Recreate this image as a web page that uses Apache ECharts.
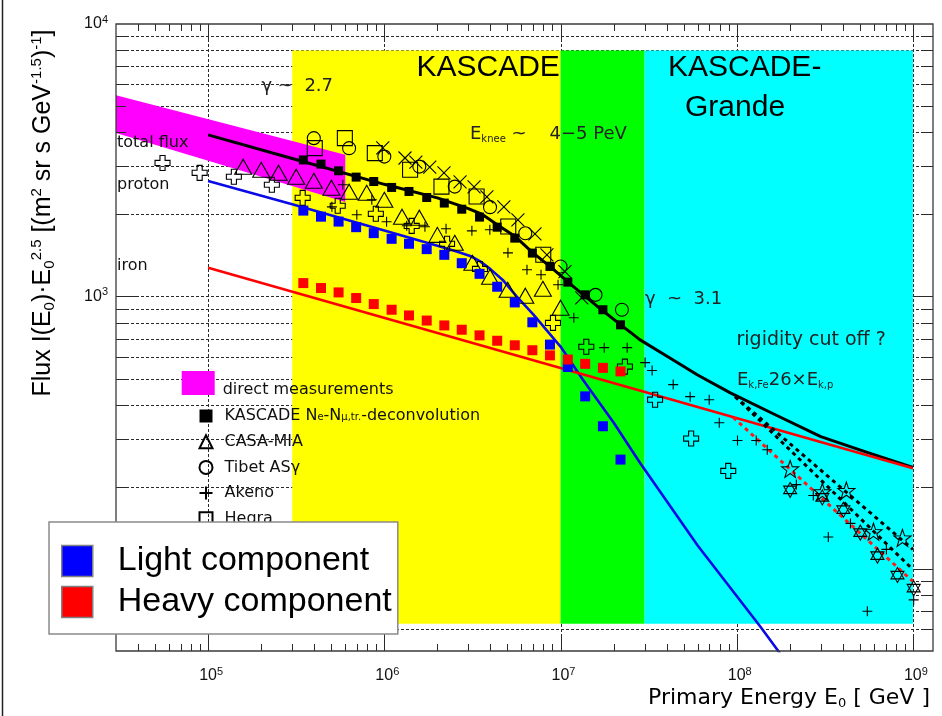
<!DOCTYPE html>
<html>
<head>
<meta charset="utf-8">
<script src="https://cdn.jsdelivr.net/npm/echarts@6/dist/echarts.min.js"></script>
<style>
  html, body { margin: 0; padding: 0; background: #fff; }
  #chart { width: 942px; height: 716px; }
</style>
</head>
<body>
<div id="chart"></div>
<script>
// ---- axis ranges (energy in GeV, flux scaled by E^2.5) ----
const energyRange = [3e4, 1.3e9];
const fluxRange = [50, 1e4];

// decades and the 2..9 subdivisions used for the frame ticks / grid
const energyDecades = [1e4, 1e5, 1e6, 1e7, 1e8, 1e9];
const fluxDecades = [10, 100, 1000];
const subSteps = [1, 2, 3, 4, 5, 6, 7, 8, 9];

// ---- detector coverage regions ----
const regionFrom = [3e5, 1e7, 3e7];
const regionTo = [1e7, 3e7, 1e9];
const regionColors = ['#ffff00', '#00ff00', '#00ffff'];
const regionFlux = [63, 8000];

// ---- direct measurements band (corner points) ----
const directBand = [[3e4, 5480], [6e5, 3312], [6e5, 2224], [3e4, 3983]];

// ---- model curves ----
const totalFit = [[1e5, 3920], [3e5, 3210], [1e6, 2580], [2e6, 2300], [3e6, 2100], [3.6e6, 2000], [4.4e6, 1830],
  [5.5e6, 1665], [6.9e6, 1455], [8.7e6, 1290], [1.18e7, 1090], [1.6e7, 925], [2.18e7, 790], [2.83e7, 693],
  [4e7, 605], [6e7, 515], [9.2e7, 443], [1.6e8, 372], [3e8, 306], [5.5e8, 268], [1e9, 236]];
const protonFit = [[1e5, 2655], [3e5, 2180], [1e6, 1745], [2e6, 1535], [2.6e6, 1460], [3.1e6, 1405], [3.5e6, 1345],
  [4e6, 1260], [4.7e6, 1150], [5.6e6, 1005], [7e6, 860], [1e7, 655], [1.34e7, 495], [2e7, 345], [2.83e7, 245],
  [6e7, 122], [1.36e8, 61.5], [2e8, 43.8]];
const ironFit = [[1e5, 1274], [1e9, 234]];
const cutoffTotalA = [[9.8e7, 429], [1e9, 99.5]];
const cutoffTotalB = [[9.8e7, 429], [1e9, 118]];
const cutoffIron = [[9.55e7, 360], [1e9, 90]];

// ---- KASCADE unfolding (shared energy bins) ----
const kascadeE = [3.47e5, 4.37e5, 5.5e5, 6.92e5, 8.71e5, 1.10e6, 1.38e6, 1.74e6, 2.19e6, 2.75e6,
  3.47e6, 4.37e6, 5.5e6, 6.92e6, 8.71e6, 1.10e7, 1.38e7, 1.74e7, 2.19e7];
const kascadeAll = [3170, 3060, 2893, 2742, 2642, 2513, 2429, 2308, 2202, 2091, 1956, 1796, 1637, 1443, 1289, 1129, 1014, 894, 787];
const kascadeLight = [2066, 1963, 1883, 1796, 1708, 1628, 1561, 1492, 1422, 1325, 1211, 1086, 951, 804, 666, 551, 430, 334, 252];
const kascadeHeavy = [1120, 1074, 1035, 987, 938, 894, 852, 816, 783, 755, 720, 688, 662, 635, 608, 587, 566, 547, 531];

// ---- other experiments ----
const casaMia = [[1.58e5, 2993], [2.0e5, 2917], [2.51e5, 2845], [3.16e5, 2750], [3.98e5, 2658], [5.01e5, 2506],
  [6.31e5, 2423], [7.94e5, 2401], [1.0e6, 2263], [1.26e6, 1963], [1.58e6, 1946], [2.0e6, 1683], [2.51e6, 1574],
  [3.16e6, 1329], [3.98e6, 1181], [5.01e6, 1058], [6.31e6, 1006], [7.94e6, 1067], [1.0e7, 909]];
const tibet = [[3.98e5, 3811], [6.31e5, 3502], [1.0e6, 3261], [1.58e6, 2997], [2.51e6, 2531], [3.98e6, 2127],
  [6.31e6, 1706], [1.0e7, 1288], [1.58e7, 1014], [2.23e7, 894]];
const akeno = [[5.04e5, 2133], [5.81e5, 2571], [6.98e5, 1994], [8.49e5, 2265], [1.03e6, 1881], [1.34e6, 1818],
  [1.70e6, 1803], [2.24e6, 1772], [3.14e6, 1741], [3.97e6, 1757], [5.03e6, 1446], [6.45e6, 1253], [7.75e6, 1201],
  [9.68e6, 1104], [1.19e7, 836], [1.77e7, 649], [2.39e7, 649], [3.02e7, 572], [3.31e7, 535], [4.36e7, 475],
  [5.44e7, 429], [6.98e7, 418], [7.96e7, 344], [1.01e8, 296], [1.29e8, 296], [1.49e8, 274], [2.18e8, 204],
  [2.72e8, 186], [3.31e8, 131], [4.42e8, 147], [7.07e8, 118], [1.01e9, 77], [5.51e8, 70]];
const hegra = [[4.03e5, 3502], [5.97e5, 3811], [8.83e5, 3357], [1.40e6, 2917], [2.11e6, 2531], [3.34e6, 2328],
  [5.05e6, 1807], [7.98e6, 1422]];
const diagonalCross = [[9.8e5, 3508], [1.31e6, 3223], [1.51e6, 3115], [1.81e6, 2985], [2.18e6, 2843], [2.69e6, 2634],
  [3.23e6, 2525], [3.82e6, 2321], [4.77e6, 2134], [5.73e6, 1912], [7.16e6, 1697], [8.37e6, 1422], [1.06e7, 1233],
  [1.32e7, 989]];
const openCross = [[5.51e4, 3091], [8.95e4, 2843], [1.40e5, 2750], [2.30e5, 2571], [3.44e5, 2301], [5.44e5, 2153],
  [8.95e5, 2011], [1.43e6, 1816], [2.27e6, 1561], [3.49e6, 1262], [9.06e6, 800], [1.40e7, 654], [2.32e7, 553],
  [3.44e7, 418], [5.51e7, 301], [8.95e7, 229]];
const openStar = [[2.01e8, 233], [3.06e8, 192], [4.19e8, 194], [5.97e8, 137], [8.72e8, 130]];
const hexagram = [[2.01e8, 195], [3.06e8, 183], [4.03e8, 165], [5.03e8, 136], [6.29e8, 112], [8.17e8, 95], [1.01e9, 85]];

// ---- labels ----
const kascadeName = 'KASCADE Ne-Nμ,tr.-deconvolution';
const lightName = 'Light component';
const heavyName = 'Heavy component';
const directName = 'direct measurements';
const markerLegendNames = [kascadeName, 'CASA-MIA', 'Tibet ASγ', 'Akeno', 'Hegra'];

const SANS = '"DejaVu Sans", sans-serif';
const HELV = '"Liberation Sans", Arial, sans-serif';
const INK = '#111';

const PLUS = 'path://M0,5H10M5,0V10';
const XMARK = 'path://M0,0L10,10M10,0L0,10';
const CROSS = 'path://M3.3,0H6.7V3.3H10V6.7H6.7V10H3.3V6.7H0V3.3H3.3Z';
const STAR = 'path://M5,0L6.18,3.38L9.76,3.45L6.9,5.62L7.94,9.05L5,7L2.06,9.05L3.1,5.62L0.24,3.45L3.82,3.38Z';
const HEX = 'path://M5,0L9.33,7.5L0.67,7.5ZM5,10L0.67,2.5L9.33,2.5Z';

function pairs(xs, ys) { return xs.map((x, i) => [x, ys[i]]); }
function isDecade(v) { const l = Math.log10(v); return Math.abs(l - Math.round(l)) < 1e-6; }
function tickValues(decades, lo, hi) {
  const out = [];
  decades.forEach(d => subSteps.forEach(m => {
    const v = m * d;
    if (v > lo * 1.0001 && v < hi * 0.9999) out.push({ v, major: m === 1 });
  }));
  return out;
}
function seg(x1, y1, x2, y2, style) {
  return { type: 'line', shape: { x1, y1, x2, y2 }, style };
}

const energyTicks = tickValues(energyDecades, energyRange[0], energyRange[1]);
const fluxTicks = tickValues(fluxDecades, fluxRange[0], fluxRange[1]);

// dashed grid under the coloured regions
function gridRender(params, api) {
  const cs = params.coordSys;
  const top = cs.y, bottom = cs.y + cs.height, left = cs.x, right = cs.x + cs.width;
  const dash = { stroke: '#2a2a2a', lineWidth: 1, lineDash: [3, 2], fill: null };
  const kids = [];
  energyTicks.filter(t => t.major).forEach(t => {
    const x = Math.round(api.coord([t.v, fluxRange[1]])[0]) + 0.5;
    kids.push(seg(x, top, x, bottom, dash));
  });
  fluxTicks.forEach(t => {
    const y = Math.round(api.coord([energyRange[0], t.v])[1]) + 0.5;
    kids.push(seg(left, y, right, y, dash));
  });
  return { type: 'group', children: kids };
}

// frame with inward ticks on all four sides
function frameRender(params, api) {
  const cs = params.coordSys;
  const top = cs.y, bottom = cs.y + cs.height, left = cs.x, right = cs.x + cs.width;
  const solid = { stroke: '#2a2a2a', lineWidth: 1, fill: null };
  const kids = [];
  energyTicks.forEach(t => {
    const x = Math.round(api.coord([t.v, fluxRange[1]])[0]) + 0.5;
    const len = t.major ? 15 : 7;
    kids.push(seg(x, bottom, x, bottom - len, solid));
    kids.push(seg(x, top, x, top + len, solid));
  });
  fluxTicks.forEach(t => {
    const y = Math.round(api.coord([energyRange[0], t.v])[1]) + 0.5;
    const len = t.major ? 20 : 10;
    kids.push(seg(right, y, right - len, y, solid));
    kids.push(seg(left, y, left + len, y, solid));
  });
  kids.push({ type: 'rect', shape: { x: left, y: top, width: cs.width, height: cs.height },
    style: { stroke: '#3a3a3a', lineWidth: 1.3, fill: null } });
  return { type: 'group', children: kids };
}

function regionRender(params, api) {
  const p0 = api.coord([api.value(0), regionFlux[1]]);
  const p1 = api.coord([api.value(1), regionFlux[0]]);
  return { type: 'rect', shape: { x: p0[0], y: p0[1], width: p1[0] - p0[0], height: p1[1] - p0[1] },
    style: { fill: regionColors[params.dataIndex] } };
}

function bandRender(params, api) {
  return { type: 'polygon', shape: { points: directBand.map(p => api.coord(p)) },
    style: { fill: '#ff00ff' } };
}

function scatter(name, data, symbol, size, fill, z) {
  return {
    type: 'scatter', name, data, symbol, symbolSize: size, z: z || 6, silent: true,
    itemStyle: { color: fill || 'rgba(0,0,0,0)', borderColor: fill ? fill : '#000',
      borderWidth: fill ? 0 : 1.1, opacity: 1 },
    emphasis: { disabled: true }
  };
}
function curve(name, data, color, width, dash) {
  return {
    type: 'line', name, data, showSymbol: false, symbol: 'none', smooth: false,
    silent: true, z: 4, clip: true,
    lineStyle: { color, width, type: dash || 'solid', cap: 'butt', join: 'round' },
    emphasis: { disabled: true }
  };
}

const tickRich = {
  m: { fontFamily: HELV, fontSize: 16, lineHeight: 20, color: INK, padding: [0, 0, 0, 6] },
  e: { fontFamily: HELV, fontSize: 11, lineHeight: 2, verticalAlign: 'top', color: INK }
};
const tickRichY = {
  m: { fontFamily: HELV, fontSize: 16, lineHeight: 20, color: INK },
  e: { fontFamily: HELV, fontSize: 11, lineHeight: 8, verticalAlign: 'top', color: INK }
};
function decadeLabel(v) {
  return isDecade(v) ? '{m|10}{e|' + Math.round(Math.log10(v)) + '}' : '';
}

const chart = echarts.init(document.getElementById('chart'), null, { renderer: 'canvas', width: 942, height: 716 });

const option = {
  animation: false,
  backgroundColor: '#fff',
  grid: { left: 116, top: 24, width: 817, height: 627, show: false },
  xAxis: {
    type: 'log', logBase: 10, min: energyRange[0], max: energyRange[1],
    axisLine: { show: false }, axisTick: { show: false }, splitLine: { show: false }, minorTick: { show: false },
    axisLabel: { margin: 15, formatter: decadeLabel, rich: tickRich, hideOverlap: false }
  },
  yAxis: {
    type: 'log', logBase: 10, min: fluxRange[0], max: fluxRange[1],
    axisLine: { show: false }, axisTick: { show: false }, splitLine: { show: false }, minorTick: { show: false },
    axisLabel: { margin: 8, formatter: decadeLabel, rich: tickRichY, hideOverlap: false }
  },
  legend: [
    {
      data: [{ name: lightName, itemStyle: { borderColor: '#808080', borderWidth: 1.5 } },
             { name: heavyName, itemStyle: { borderColor: '#808080', borderWidth: 1.5 } }],
      orient: 'vertical', left: 49, top: 522, icon: 'rect', itemWidth: 31, itemHeight: 31, itemGap: 7,
      padding: [22, 6, 15, 12], backgroundColor: '#fff', borderColor: '#8a8a8a', borderWidth: 1.5,
      selectedMode: false, z: 20,
      textStyle: { fontFamily: HELV, fontSize: 34, lineHeight: 31, color: '#000', padding: [0, 0, 0, 20] }
    },
    {
      data: markerLegendNames, orient: 'vertical', left: 198.5, top: 408, itemWidth: 13, itemHeight: 13, itemGap: 9.7,
      padding: 0, selectedMode: false, z: 15,
      formatter: name => name === kascadeName
        ? '{t|KASCADE N}{s|e}{t|-N}{s|μ,tr.}{t|-deconvolution}' : '{t|' + name + '}',
      textStyle: {
        padding: [0, 0, 0, 7],
        rich: {
          t: { fontFamily: SANS, fontSize: 16, lineHeight: 13, color: INK },
          s: { fontFamily: SANS, fontSize: 10, lineHeight: 3, verticalAlign: 'bottom', color: INK }
        }
      }
    },
    {
      data: [directName], orient: 'vertical', left: 181.7, top: 368, itemWidth: 33, itemHeight: 24, icon: 'rect',
      padding: 0, selectedMode: false, z: 15,
      formatter: name => '{d|' + name + '}',
      textStyle: {
        rich: {
          d: { fontFamily: SANS, fontSize: 16, lineHeight: 10, color: INK, padding: [14, 0, 0, 3] }
        }
      }
    }
  ],
  series: [
    { type: 'custom', name: 'grid', coordinateSystem: 'cartesian2d', silent: true, z: 1,
      data: [[energyRange[0], fluxRange[0]]], renderItem: gridRender },
    { type: 'custom', name: 'regions', coordinateSystem: 'cartesian2d', silent: true, z: 2,
      data: regionFrom.map((f, i) => [f, regionTo[i]]), renderItem: regionRender },
    { type: 'custom', name: directName, coordinateSystem: 'cartesian2d', silent: true, z: 3,
      itemStyle: { color: '#ff00ff' },
      data: [directBand[0]], renderItem: bandRender },
    curve('total flux', totalFit, '#000', 3),
    curve('proton', protonFit, '#0a0ae6', 2.6),
    curve('iron', ironFit, '#ff0000', 2.6),
    curve('cutoff A', cutoffTotalA, '#000', 3, [4, 4]),
    curve('cutoff B', cutoffTotalB, '#000', 3, [4, 4]),
    curve('cutoff iron', cutoffIron, '#ff1a1a', 3, [4, 4]),
    scatter('open cross', openCross, CROSS, 15),
    scatter('Akeno', akeno, PLUS, 10),
    scatter('CASA-MIA', casaMia, 'triangle', [17, 15]),
    scatter('Tibet ASγ', tibet, 'circle', 13),
    scatter('Hegra', hegra, 'rect', 15),
    scatter('diagonal cross', diagonalCross, XMARK, 13),
    scatter('open star', openStar, STAR, 17),
    scatter('hexagram', hexagram, HEX, [13, 15]),
    scatter(kascadeName, pairs(kascadeE, kascadeAll), 'rect', 9, '#000', 7),
    scatter(lightName, pairs(kascadeE, kascadeLight), 'rect', 10, '#0000ff', 7),
    scatter(heavyName, pairs(kascadeE, kascadeHeavy), 'rect', 10, '#ff0000', 7),
    { type: 'custom', name: 'frame', coordinateSystem: 'cartesian2d', silent: true, z: 9,
      data: [[energyRange[0], fluxRange[0]]], renderItem: frameRender }
  ],
  graphic: [
    { type: 'line', shape: { x1: 2.5, y1: 0, x2: 2.5, y2: 716 }, style: { stroke: '#222', lineWidth: 1.5 }, z: 50 },
    { type: 'text', x: 416.5, y: 68, z: 50, style: { text: 'KASCADE', font: '30px ' + HELV, fill: '#000', textVerticalAlign: 'middle', verticalAlign: 'middle' } },
    { type: 'text', x: 668, y: 68, z: 50, style: { text: 'KASCADE-', font: '30px ' + HELV, fill: '#000', textVerticalAlign: 'middle', verticalAlign: 'middle' } },
    { type: 'text', x: 685, y: 108, z: 50, style: { text: 'Grande', font: '30px ' + HELV, fill: '#000', textVerticalAlign: 'middle', verticalAlign: 'middle' } },
    { type: 'text', x: 261.5, y: 86, z: 50, style: { text: 'γ ~  2.7', font: '18px ' + SANS, fill: '#222', textVerticalAlign: 'middle', verticalAlign: 'middle' } },
    { type: 'text', x: 645, y: 299, z: 50, style: { text: 'γ  ~  3.1', font: '18px ' + SANS, fill: '#222', textVerticalAlign: 'middle', verticalAlign: 'middle' } },
    { type: 'text', x: 736.5, y: 340, z: 50, style: { text: 'rigidity cut off ?', font: '19px ' + SANS, fill: '#222', textVerticalAlign: 'middle', verticalAlign: 'middle' } },
    { type: 'text', x: 470, y: 134, z: 50, style: {
      text: '{m|E}{s|knee}{m| ~    4−5 PeV}', verticalAlign: 'middle', textVerticalAlign: 'middle',
      rich: { m: { fontFamily: SANS, fontSize: 18, lineHeight: 20, fill: '#222', color: '#222' },
              s: { fontFamily: SANS, fontSize: 10, lineHeight: 6, verticalAlign: 'bottom', fill: '#222', color: '#222' } } } },
    { type: 'text', x: 737, y: 380, z: 50, style: {
      text: '{m|E}{s|k,Fe}{m|26×E}{s|k,p}', verticalAlign: 'middle', textVerticalAlign: 'middle',
      rich: { m: { fontFamily: SANS, fontSize: 18, lineHeight: 20, fill: '#222', color: '#222' },
              s: { fontFamily: SANS, fontSize: 10, lineHeight: 6, verticalAlign: 'bottom', fill: '#222', color: '#222' } } } },
    { type: 'text', x: 117, y: 143, z: 50, style: { text: 'total flux', font: '16px ' + SANS, fill: INK, textVerticalAlign: 'middle', verticalAlign: 'middle' } },
    { type: 'text', x: 117, y: 185, z: 50, style: { text: 'proton', font: '16px ' + SANS, fill: INK, textVerticalAlign: 'middle', verticalAlign: 'middle' } },
    { type: 'text', x: 117, y: 266, z: 50, style: { text: 'iron', font: '16px ' + SANS, fill: INK, textVerticalAlign: 'middle', verticalAlign: 'middle' } },
    { type: 'text', x: 43, y: 213, rotation: Math.PI / 2, z: 50, style: {
      text: '{m|Flux I(E}{b|0}{m|)·E}{b|0}{t|2.5}{m| [(m}{t|2}{m| sr s GeV}{t|-1.5}{m|)}{t|-1}{m|]}',
      align: 'center', textAlign: 'center', verticalAlign: 'middle', textVerticalAlign: 'middle',
      rich: { m: { fontFamily: HELV, fontSize: 25, lineHeight: 28, fill: '#000', color: '#000' },
              b: { fontFamily: HELV, fontSize: 15, lineHeight: 12, verticalAlign: 'bottom', fill: '#000', color: '#000' },
              t: { fontFamily: HELV, fontSize: 15, lineHeight: 12, verticalAlign: 'top', fill: '#000', color: '#000' } } } },
    { type: 'text', x: 930, y: 698, z: 50, style: {
      text: '{m|Primary Energy E}{b|0}{m| [ GeV ]}',
      align: 'right', textAlign: 'right', verticalAlign: 'middle', textVerticalAlign: 'middle',
      rich: { m: { fontFamily: SANS, fontSize: 22, lineHeight: 24, fill: '#000', color: '#000' },
              b: { fontFamily: SANS, fontSize: 13, lineHeight: 10, verticalAlign: 'bottom', fill: '#000', color: '#000' } } } }
  ]
};

chart.setOption(option);
</script>
</body>
</html>
